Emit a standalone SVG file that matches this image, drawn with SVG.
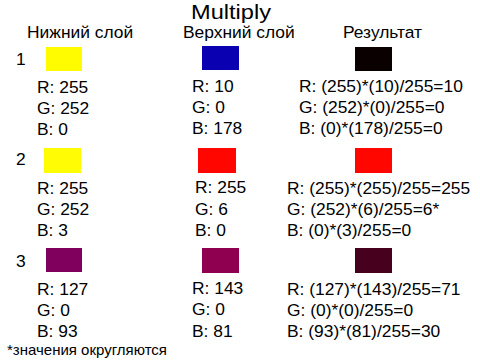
<svg xmlns="http://www.w3.org/2000/svg" width="480" height="360" viewBox="0 0 480 360">
<style>
text{font-family:"Liberation Sans",Arial,sans-serif;fill:#000;font-size:17.4px}
.title{font-size:20px}
.note{font-size:15px}
.sw{stroke:none}
</style>
<rect width="480" height="360" fill="#fff"/>
<text class="title" x="191" y="19" textLength="80" lengthAdjust="spacingAndGlyphs">Multiply</text>
<g id="headers">
<text x="27" y="38">Нижний слой</text>
<text x="183" y="38">Верхний слой</text>
<text x="343" y="38">Результат</text>
</g>
<g id="row1">
<text x="16" y="65">1</text>
<rect class="sw" x="46" y="47" width="36" height="24" fill="#FFFC00"/>
<text x="37" y="93">R: 255</text>
<text x="37" y="114">G: 252</text>
<text x="37" y="135">B: 0</text>
<rect class="sw" x="202" y="46" width="37" height="24" fill="#0A00B2"/>
<text x="192" y="92">R: 10</text>
<text x="192" y="113">G: 0</text>
<text x="192" y="134">B: 178</text>
<rect class="sw" x="355" y="47" width="37" height="24" fill="#0A0000"/>
<text x="299" y="92">R: (255)*(10)/255=10</text>
<text x="299" y="113">G: (252)*(0)/255=0</text>
<text x="299" y="134">B: (0)*(178)/255=0</text>
</g>
<g id="row2">
<text x="16" y="165">2</text>
<rect class="sw" x="44" y="148" width="37" height="25" fill="#FFFC03"/>
<text x="37" y="194">R: 255</text>
<text x="37" y="215">G: 252</text>
<text x="37" y="236">B: 3</text>
<rect class="sw" x="198" y="148" width="38" height="25" fill="#FF0600"/>
<text x="195" y="193">R: 255</text>
<text x="195" y="215">G: 6</text>
<text x="195" y="236">B: 0</text>
<rect class="sw" x="355" y="148" width="37" height="25" fill="#FF0600"/>
<text x="287" y="194">R: (255)*(255)/255=255</text>
<text x="287" y="215">G: (252)*(6)/255=6*</text>
<text x="287" y="236">B: (0)*(3)/255=0</text>
</g>
<g id="row3">
<text x="16" y="267">3</text>
<rect class="sw" x="46" y="248" width="36" height="24" fill="#7F005D"/>
<text x="37" y="295">R: 127</text>
<text x="37" y="316">G: 0</text>
<text x="37" y="337">B: 93</text>
<rect class="sw" x="202" y="248" width="37" height="25" fill="#8F0051"/>
<text x="192" y="294">R: 143</text>
<text x="192" y="315">G: 0</text>
<text x="192" y="337">B: 81</text>
<rect class="sw" x="355" y="248" width="37" height="25" fill="#47001E"/>
<text x="287" y="295">R: (127)*(143)/255=71</text>
<text x="287" y="316">G: (0)*(0)/255=0</text>
<text x="287" y="337">B: (93)*(81)/255=30</text>
</g>
<text class="note" x="7" y="355">*значения округляются</text>
</svg>
